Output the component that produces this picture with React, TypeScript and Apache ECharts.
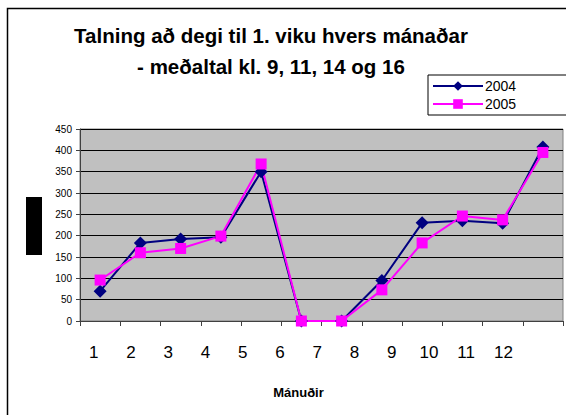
import React, { useEffect, useRef } from "react";
import * as echarts from "echarts";

const months = ["1", "2", "3", "4", "5", "6", "7", "8", "9", "10", "11", "12"];
const values2004 = [70, 183, 192, 196, 350, 0, 0, 95, 230, 235, 229, 408];
const values2005 = [96, 160, 170, 199, 368, 0, 0, 73, 183, 246, 237, 395];
const yTicks = { min: 0, max: 450, interval: 50 };
const titleLines = ["Talning að degi til 1. viku hvers mánaðar", "- meðaltal kl. 9, 11, 14 og 16"];
const xName = "Mánuðir";

export default function App() {
  const ref = useRef<HTMLDivElement>(null);
  useEffect(() => {
    if (!ref.current) return;
    const chart = echarts.init(ref.current, null, { renderer: "svg" });
    const font = "Liberation Sans, Arial, sans-serif";
    chart.setOption({
      animation: false,
      backgroundColor: "#ffffff",
      textStyle: { fontFamily: font },
      title: {
        text: titleLines.join("\n"),
        left: 266,
        top: 15,
        textAlign: "center",
        textStyle: { fontSize: 20.5, fontWeight: "bold", color: "#000", lineHeight: 31, fontFamily: font },
      },
      legend: {
        orient: "vertical",
        left: 428,
        top: 75,
        padding: [4, 60, 4, 4],
        itemGap: 4,
        itemWidth: 50,
        itemHeight: 12,
        borderColor: "#000",
        borderWidth: 1,
        backgroundColor: "#fff",
        textStyle: { fontSize: 14, color: "#000", fontFamily: font, padding: [0, 0, 0, -3] },
        data: ["2004", "2005"],
      },
      graphic: [
        {
          type: "rect",
          shape: { x: 7.5, y: 8.5, width: 700, height: 600 },
          style: { fill: "none", stroke: "#000", lineWidth: 1.5 },
          silent: true,
        },
        {
          type: "rect",
          shape: { x: 26, y: 197, width: 16, height: 58 },
          style: { fill: "#000" },
          silent: true,
        },
      ],
      grid: [
        { left: 80, top: 129, right: 3, bottom: 94, show: true, backgroundColor: "#C0C0C0", borderColor: "#808080", borderWidth: 1 },
        { left: 75, width: 447, top: 300, height: 21, show: false },
      ],
      xAxis: [
        {
          type: "category",
          gridIndex: 0,
          data: months,
          boundaryGap: true,
          axisLine: { lineStyle: { color: "#404040", width: 1 } },
          axisTick: { show: true, length: 5, lineStyle: { color: "#404040" } },
          axisLabel: { show: false },
          splitLine: { show: false },
        },
        {
          type: "category",
          gridIndex: 1,
          data: months,
          axisLine: { show: false },
          axisTick: { show: false },
          axisLabel: { show: true, fontSize: 17, color: "#000", margin: 23, fontFamily: font },
          name: xName,
          nameLocation: "middle",
          nameGap: 65,
          nameTextStyle: { fontSize: 13, fontWeight: "bold", color: "#000", fontFamily: font },
        },
      ],
      yAxis: [
        {
          type: "value",
          gridIndex: 0,
          min: yTicks.min,
          max: yTicks.max,
          interval: yTicks.interval,
          axisLine: { show: true, lineStyle: { color: "#404040", width: 1 } },
          axisTick: { show: true, length: 4, lineStyle: { color: "#404040" } },
          axisLabel: { fontSize: 10, color: "#000", margin: 8, fontFamily: font },
          splitLine: { show: true, lineStyle: { color: "#000", width: 1 } },
        },
        { type: "value", gridIndex: 1, show: false },
      ],
      series: [
        {
          name: "2004",
          type: "line",
          xAxisIndex: 0,
          yAxisIndex: 0,
          data: values2004,
          symbol: "diamond",
          symbolSize: 13,
          lineStyle: { color: "#000080", width: 2 },
          itemStyle: { color: "#000080" },
        },
        {
          name: "2005",
          type: "line",
          xAxisIndex: 0,
          yAxisIndex: 0,
          data: values2005,
          symbol: "rect",
          symbolSize: 11,
          lineStyle: { color: "#FF00FF", width: 2 },
          itemStyle: { color: "#FF00FF" },
        },
      ],
    });
    return () => chart.dispose();
  }, []);
  return <div ref={ref} style={{ position: "fixed", left: 0, top: 0, width: 566, height: 415 }} />;
}
